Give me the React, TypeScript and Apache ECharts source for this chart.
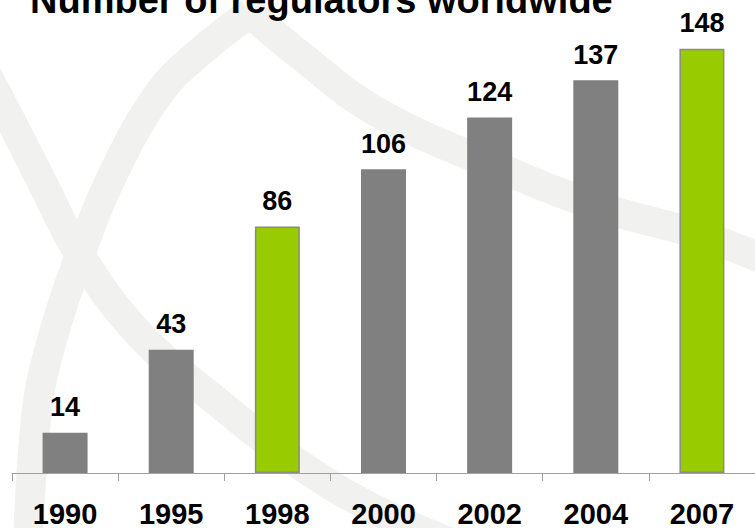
import React, { useEffect, useRef } from "react";
import * as echarts from "echarts";

const categories = ["1990", "1995", "1998", "2000", "2002", "2004", "2007"];
const regulatorCounts = [14, 43, 86, 106, 124, 137, 148];
const highlightedYears = ["1998", "2007"];
const chartTitle = "Number of regulators worldwide";

const GRAY = "#808080";
const GREEN = "#99CC00";
const WATERMARK = "#f1f1ef";
const FONT = "'Liberation Sans', Arial, sans-serif";

const watermarkBands: number[][][] = [
  // left crossing band
  [[-30, 45], [0, 100], [40, 178], [80, 255], [140, 335], [215, 400], [300, 465], [380, 512], [470, 550]],
  // apex left branch
  [[250, 13], [200, 52], [160, 92], [115, 170], [80, 255], [52, 340], [37, 410], [28, 545]],
  // apex right branch
  [[250, 13], [300, 55], [377, 112], [500, 168], [600, 207], [700, 235], [770, 262]],
];

export default function App() {
  const ref = useRef<HTMLDivElement>(null);
  useEffect(() => {
    if (!ref.current) return;
    const chart = echarts.init(ref.current, null, { renderer: "svg" });
    const data = regulatorCounts.map((v, i) => {
      const hi = highlightedYears.includes(categories[i]);
      return {
        value: v,
        itemStyle: {
          color: hi ? GREEN : GRAY,
          borderColor: hi ? "#8a8a8a" : GRAY,
          borderWidth: hi ? 1.5 : 0,
        },
      };
    });
    chart.setOption({
      animation: false,
      backgroundColor: "#ffffff",
      title: {
        text: chartTitle,
        left: 30,
        top: -19,
        padding: 0,
        textStyle: {
          fontFamily: FONT,
          fontSize: 38,
          fontWeight: "bold",
          color: "#000000",
        },
      },
      graphic: watermarkBands.map((pts) => ({
        type: "polyline",
        silent: true,
        z: -10,
        shape: { points: pts, smooth: 0.4 },
        style: { stroke: WATERMARK, lineWidth: 30, fill: null, lineCap: "butt" },
      })),
      grid: { left: 12, top: 0, bottom: 53, width: 751, containLabel: false },
      xAxis: {
        type: "category",
        data: categories,
        axisLine: { show: true, lineStyle: { color: "#a0a0a0", width: 1 } },
        axisTick: { show: true, length: 8, lineStyle: { color: "#a0a0a0", width: 1 } },
        axisLabel: {
          interval: 0,
          margin: 26,
          fontFamily: FONT,
          fontSize: 29,
          fontWeight: "bold",
          color: "#000000",
        },
      },
      yAxis: {
        type: "value",
        min: 0,
        max: 165,
        show: false,
        splitLine: { show: false },
      },
      series: [
        {
          type: "bar",
          data,
          barWidth: 45,
          label: {
            show: true,
            position: "top",
            distance: 12,
            fontFamily: FONT,
            fontSize: 27,
            fontWeight: "bold",
            color: "#000000",
          },
        },
      ],
    });
    return () => chart.dispose();
  }, []);
  return (
    <div
      ref={ref}
      style={{ position: "fixed", left: 0, top: 0, width: 755, height: 528 }}
    />
  );
}
